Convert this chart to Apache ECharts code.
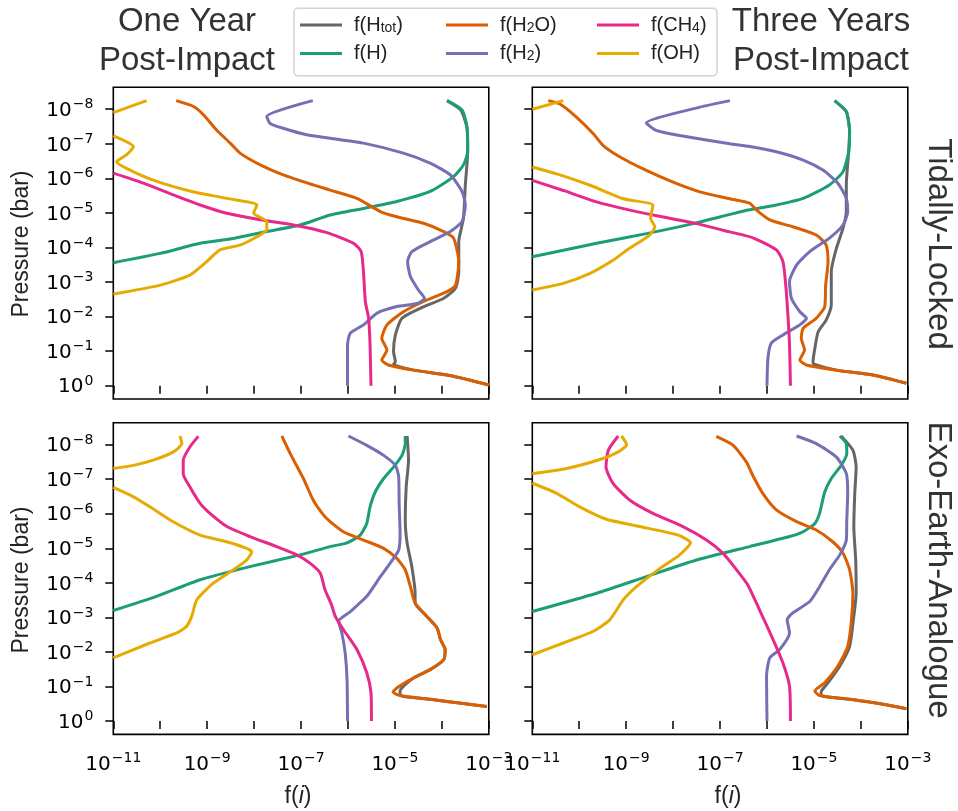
<!DOCTYPE html>
<html>
<head>
<meta charset="utf-8">
<script src="https://cdn.jsdelivr.net/npm/echarts@6/dist/echarts.min.js"></script>
<style>html,body{margin:0;padding:0;background:#fff;}#c{width:958px;height:811px;}</style>
</head>
<body>
<div id="c"></div>
<script>
// Values are log10 mixing ratio f(i) and log10 pressure (bar): [log10 f, log10 P]
const X_TICKS = [-11, -10, -9, -8, -7, -6, -5, -4, -3];
const Y_TICKS = [-8, -7, -6, -5, -4, -3, -2, -1, 0];

// ---- One Year, Tidally-Locked ----
const tl1_Htot = [[-3.89,-8.25],[-3.60,-7.98],[-3.47,-7.50],[-3.45,-6.95],[-3.45,-6.77],[-3.50,-5.81],[-3.54,-4.84],[-3.64,-4.17],[-3.64,-3.30],[-3.71,-2.82],[-3.96,-2.53],[-4.46,-2.24],[-4.85,-1.95],[-4.99,-1.47],[-5.03,-0.98],[-4.99,-0.69],[-5.03,-0.62],[-4.60,-0.45],[-3.89,-0.31],[-3.39,-0.16],[-3.0,-0.02]];
const tl1_H = [[-3.89,-8.25],[-3.57,-7.98],[-3.46,-7.45],[-3.45,-6.77],[-3.54,-6.39],[-3.75,-6.05],[-4.25,-5.62],[-4.96,-5.33],[-5.67,-5.13],[-6.38,-4.94],[-7.02,-4.65],[-7.73,-4.46],[-8.44,-4.26],[-9.15,-4.12],[-10.0,-3.83],[-11,-3.56]];
const tl1_H2O = [[-9.66,-8.25],[-9.29,-8.08],[-9.08,-7.84],[-8.80,-7.40],[-8.51,-7.02],[-8.30,-6.73],[-7.87,-6.39],[-7.38,-6.10],[-6.74,-5.81],[-6.38,-5.66],[-5.81,-5.42],[-5.31,-5.04],[-4.96,-4.89],[-4.39,-4.70],[-3.96,-4.46],[-3.75,-4.27],[-3.64,-3.59],[-3.71,-2.91],[-3.89,-2.72],[-4.32,-2.48],[-4.82,-2.14],[-5.17,-1.76],[-5.28,-1.37],[-5.17,-1.03],[-5.28,-0.74],[-5.14,-0.60],[-4.60,-0.45],[-3.89,-0.31],[-3.39,-0.16],[-3.0,-0.02]];
const tl1_H2 = [[-6.75,-8.25],[-7.73,-7.79],[-7.66,-7.59],[-7.38,-7.45],[-6.88,-7.26],[-6.38,-7.16],[-5.67,-7.02],[-4.82,-6.73],[-4.25,-6.44],[-3.82,-6.10],[-3.57,-5.62],[-3.50,-5.23],[-3.57,-4.75],[-3.82,-4.46],[-4.25,-4.17],[-4.64,-3.88],[-4.73,-3.59],[-4.67,-3.16],[-4.50,-2.77],[-4.37,-2.53],[-4.53,-2.38],[-4.96,-2.29],[-5.38,-2.10],[-5.67,-1.76],[-5.95,-1.52],[-6.01,-1.18],[-6.01,0.0]];
const tl1_CH4 = [[-11,-6.15],[-10.36,-5.86],[-9.72,-5.52],[-9.15,-5.23],[-8.58,-4.99],[-7.87,-4.80],[-7.16,-4.65],[-6.45,-4.43],[-5.88,-4.12],[-5.72,-3.88],[-5.67,-3.30],[-5.63,-2.43],[-5.56,-1.95],[-5.53,-1.18],[-5.51,0.0]];
const tl1_OH = [[-10.29,-8.25],[-11,-7.9],null,[-11,-7.23],[-10.57,-6.92],[-10.72,-6.68],[-10.93,-6.48],[-10.72,-6.29],[-10.15,-5.95],[-9.33,-5.62],[-8.58,-5.42],[-7.94,-5.23],[-8.01,-4.99],[-7.73,-4.75],[-7.73,-4.51],[-7.94,-4.31],[-8.30,-4.07],[-8.73,-3.93],[-9.01,-3.59],[-9.37,-3.20],[-10.0,-2.91],[-11,-2.65]];

// ---- Three Years, Tidally-Locked ----
const tl3_Htot = [[-4.56,-8.25],[-4.31,-7.93],[-4.24,-7.35],[-4.26,-6.77],[-4.31,-5.81],[-4.31,-5.04],[-4.38,-4.56],[-4.52,-3.98],[-4.63,-3.30],[-4.63,-2.34],[-4.74,-1.90],[-4.91,-1.56],[-4.98,-1.08],[-5.02,-0.69],[-5.0,-0.62],[-4.52,-0.45],[-3.74,-0.31],[-3.03,-0.07]];
const tl3_H = [[-4.56,-8.25],[-4.31,-7.93],[-4.24,-7.35],[-4.26,-6.77],[-4.38,-6.19],[-4.67,-5.81],[-5.23,-5.42],[-5.80,-5.23],[-6.37,-5.09],[-6.72,-4.98],[-7.57,-4.69],[-8.57,-4.40],[-9.63,-4.12],[-11,-3.73]];
const tl3_H2O = [[-10.66,-8.25],[-10.41,-8.15],[-10.06,-7.77],[-9.70,-7.29],[-9.49,-6.95],[-9.13,-6.62],[-8.57,-6.23],[-8.0,-5.89],[-7.43,-5.61],[-6.79,-5.41],[-6.37,-5.28],[-6.23,-5.09],[-5.94,-4.80],[-5.45,-4.60],[-4.95,-4.36],[-4.74,-4.07],[-4.70,-3.59],[-4.75,-2.91],[-4.77,-2.29],[-4.95,-1.95],[-5.23,-1.66],[-5.27,-1.37],[-5.20,-1.03],[-5.30,-0.74],[-5.16,-0.60],[-4.52,-0.45],[-3.74,-0.31],[-3.03,-0.07]];
const tl3_H2 = [[-6.79,-8.25],[-7.43,-8.06],[-8.57,-7.60],[-8.35,-7.38],[-7.86,-7.24],[-6.79,-7.0],[-6.37,-6.92],[-5.80,-6.77],[-5.23,-6.53],[-4.81,-6.24],[-4.49,-5.86],[-4.31,-5.42],[-4.28,-5.04],[-4.38,-4.65],[-4.67,-4.27],[-5.09,-3.88],[-5.37,-3.49],[-5.52,-3.01],[-5.48,-2.53],[-5.30,-2.14],[-5.16,-1.95],[-5.30,-1.76],[-5.66,-1.47],[-5.91,-1.23],[-5.98,-0.79],[-6.0,0.0]];
const tl3_CH4 = [[-11,-5.94],[-10.34,-5.65],[-9.63,-5.32],[-8.92,-5.08],[-8.21,-4.88],[-7.50,-4.69],[-6.79,-4.45],[-6.30,-4.28],[-5.80,-3.93],[-5.66,-3.59],[-5.60,-2.91],[-5.55,-1.95],[-5.52,-1.18],[-5.50,0.0]];
const tl3_OH = [[-10.34,-8.25],[-11,-8.0],null,[-11,-6.33],[-10.48,-6.13],[-9.77,-5.80],[-9.06,-5.41],[-8.43,-5.22],[-8.48,-4.84],[-8.39,-4.60],[-8.50,-4.36],[-8.99,-3.92],[-9.28,-3.63],[-9.77,-3.25],[-10.34,-2.96],[-11,-2.77]];

// ---- One Year, Exo-Earth-Analogue ----
const ea1_Htot = [[-4.74,-8.25],[-4.71,-7.55],[-4.76,-6.78],[-4.78,-5.82],[-4.74,-5.15],[-4.64,-4.47],[-4.57,-3.70],[-4.57,-3.42],[-4.32,-3.03],[-4.10,-2.69],[-4.03,-2.36],[-3.93,-2.07],[-3.96,-1.78],[-4.25,-1.49],[-4.60,-1.25],[-4.89,-0.87],[-4.89,-0.74],[-4.25,-0.63],[-3.54,-0.51],[-3.04,-0.42]];
const ea1_H = [[-4.78,-8.25],[-4.78,-8.03],[-4.85,-7.69],[-5.03,-7.35],[-5.24,-7.02],[-5.42,-6.63],[-5.53,-6.20],[-5.60,-5.72],[-5.74,-5.38],[-6.02,-5.16],[-6.38,-5.05],[-7.02,-4.81],[-8.09,-4.47],[-9.15,-4.09],[-10.08,-3.61],[-11,-3.20]];
const ea1_H2O = [[-7.41,-8.25],[-7.23,-7.74],[-6.95,-7.02],[-6.74,-6.39],[-6.52,-5.96],[-6.38,-5.77],[-6.10,-5.48],[-5.67,-5.24],[-5.24,-5.0],[-4.96,-4.71],[-4.78,-4.38],[-4.67,-3.89],[-4.57,-3.42],[-4.32,-3.03],[-4.10,-2.69],[-4.03,-2.36],[-3.93,-2.07],[-3.96,-1.78],[-4.25,-1.49],[-4.60,-1.25],[-4.96,-0.96],[-5.04,-0.84],[-4.89,-0.74],[-4.25,-0.63],[-3.54,-0.51],[-3.04,-0.42]];
const ea1_H2 = [[-5.99,-8.25],[-5.60,-7.98],[-5.24,-7.69],[-4.99,-7.40],[-4.92,-7.07],[-4.91,-6.30],[-4.89,-5.43],[-4.92,-4.95],[-5.10,-4.57],[-5.31,-4.18],[-5.60,-3.61],[-5.95,-3.17],[-6.20,-2.89],[-6.13,-2.55],[-6.06,-1.97],[-6.02,-1.20],[-6.01,0.0]];
const ea1_CH4 = [[-9.19,-8.24],[-9.37,-7.93],[-9.51,-7.55],[-9.51,-7.16],[-9.37,-6.78],[-9.15,-6.30],[-8.94,-6.01],[-8.58,-5.63],[-8.09,-5.34],[-7.52,-5.05],[-7.09,-4.81],[-6.81,-4.57],[-6.59,-4.28],[-6.49,-3.80],[-6.36,-3.40],[-6.27,-3.03],[-6.10,-2.65],[-5.81,-2.07],[-5.60,-1.40],[-5.51,-0.82],[-5.50,0.0]];
const ea1_OH = [[-9.58,-8.25],[-9.54,-8.03],[-9.72,-7.79],[-10.15,-7.55],[-10.57,-7.40],[-11,-7.31],null,[-11,-6.76],[-10.57,-6.49],[-10.22,-6.20],[-9.79,-5.82],[-9.15,-5.38],[-8.58,-5.19],[-8.16,-5.0],[-8.05,-4.90],[-8.16,-4.66],[-8.44,-4.38],[-8.87,-3.99],[-9.22,-3.51],[-9.33,-3.03],[-9.44,-2.74],[-9.65,-2.55],[-10.22,-2.26],[-11,-1.83]];

// ---- Three Years, Exo-Earth-Analogue ----
const ea3_Htot = [[-4.42,-8.25],[-4.17,-7.84],[-4.10,-7.35],[-4.13,-6.59],[-4.15,-5.62],[-4.11,-4.66],[-4.10,-3.70],[-4.16,-2.93],[-4.24,-2.16],[-4.45,-1.59],[-4.70,-1.11],[-4.84,-0.87],[-4.85,-0.74],[-4.24,-0.63],[-3.53,-0.49],[-3.03,-0.36]];
const ea3_H = [[-4.45,-8.25],[-4.31,-8.03],[-4.30,-7.74],[-4.42,-7.40],[-4.63,-7.02],[-4.77,-6.63],[-4.88,-6.01],[-4.98,-5.72],[-5.23,-5.48],[-5.52,-5.34],[-6.37,-5.05],[-7.50,-4.66],[-8.57,-4.18],[-9.63,-3.70],[-11,-3.17]];
const ea3_H2O = [[-7.08,-8.24],[-6.72,-7.98],[-6.44,-7.50],[-6.30,-7.10],[-6.09,-6.59],[-5.80,-6.11],[-5.37,-5.77],[-4.95,-5.53],[-4.60,-5.19],[-4.38,-4.86],[-4.24,-4.38],[-4.17,-3.70],[-4.20,-2.93],[-4.28,-2.16],[-4.49,-1.59],[-4.77,-1.11],[-4.98,-0.87],[-4.88,-0.74],[-4.24,-0.63],[-3.53,-0.49],[-3.03,-0.36]];
const ea3_H2 = [[-5.37,-8.25],[-4.95,-8.03],[-4.52,-7.64],[-4.31,-7.16],[-4.28,-6.59],[-4.30,-5.82],[-4.31,-5.24],[-4.45,-4.81],[-4.67,-4.38],[-4.88,-3.89],[-5.09,-3.46],[-5.45,-3.13],[-5.57,-2.93],[-5.52,-2.55],[-5.73,-2.07],[-5.94,-1.83],[-6.01,-1.30],[-6.0,0.0]];
const ea3_CH4 = [[-9.17,-8.25],[-9.38,-7.84],[-9.43,-7.36],[-9.28,-6.88],[-8.92,-6.39],[-8.43,-6.01],[-7.79,-5.63],[-7.29,-5.24],[-6.94,-4.86],[-6.65,-4.38],[-6.40,-3.92],[-6.16,-3.22],[-5.87,-2.36],[-5.66,-1.68],[-5.52,-1.01],[-5.50,0.0]];
const ea3_OH = [[-9.10,-8.25],[-8.99,-8.0],[-9.17,-7.79],[-9.56,-7.57],[-10.27,-7.31],[-11,-7.16],null,[-11,-6.89],[-10.48,-6.59],[-9.99,-6.20],[-9.42,-5.84],[-8.71,-5.63],[-7.89,-5.38],[-7.63,-5.16],[-7.86,-4.81],[-8.28,-4.42],[-8.78,-3.89],[-9.06,-3.51],[-9.35,-2.93],[-9.70,-2.60],[-10.34,-2.26],[-11,-1.92]];

const SPECIES = ['Htot', 'H', 'H2O', 'H2', 'CH4', 'OH'];
const LEGEND_LABELS = {
  Htot: '{g| }{n|f(H}{sub|tot}{n|)}',
  H: '{g| }{n|f(H)}',
  H2O: '{g| }{n|f(H}{sub|2}{n|O)}',
  H2: '{g| }{n|f(H}{sub|2}{n|)}',
  CH4: '{g| }{n|f(CH}{sub|4}{n|)}',
  OH: '{g| }{n|f(OH)}'
};
const PANELS = [
  [tl1_Htot, tl1_H, tl1_H2O, tl1_H2, tl1_CH4, tl1_OH],
  [tl3_Htot, tl3_H, tl3_H2O, tl3_H2, tl3_CH4, tl3_OH],
  [ea1_Htot, ea1_H, ea1_H2O, ea1_H2, ea1_CH4, ea1_OH],
  [ea3_Htot, ea3_H, ea3_H2O, ea3_H2, ea3_CH4, ea3_OH]
];

const COLORS = { Htot: '#666666', H: '#1b9e77', H2O: '#d95f02', H2: '#7570b3', CH4: '#e7298a', OH: '#e6ab02' };
const SANS = 'Liberation Sans, Arial, Helvetica, sans-serif';
const TICKFONT = 'DejaVu Sans, sans-serif';

const sup = n => '{b|10}{s|' + (n < 0 ? '\u2212' + (-n) : String(n)) + '}';
const tickRich = {
  b: { fontFamily: TICKFONT, fontSize: 20, lineHeight: 23, verticalAlign: 'bottom', color: '#000' },
  s: { fontFamily: TICKFONT, fontSize: 14, lineHeight: 12, verticalAlign: 'top', color: '#000', padding: [0, 0, 0, 1] }
};

const gridPos = [
  { left: 113.3, top: 87.3 },
  { left: 532.3, top: 87.3 },
  { left: 113.3, top: 422.7 },
  { left: 532.3, top: 422.7 }
];
const grids = gridPos.map(g => ({
  left: g.left, top: g.top, width: 375.5, height: 311.7,
  show: true, borderColor: '#000', borderWidth: 1.6, backgroundColor: 'transparent', containLabel: false
}));

const xAxes = gridPos.map((g, i) => ({
  type: 'value', gridIndex: i, min: X_TICKS[0], max: X_TICKS[X_TICKS.length - 1], interval: 1,
  axisLine: { show: false }, splitLine: { show: false },
  axisTick: { show: true, length: 8, lineStyle: { color: '#000', width: 1.5 } },
  axisLabel: {
    show: i >= 2, margin: 17, rich: tickRich,
    formatter: v => { const n = Math.round(v); return (n % 2 !== 0) ? sup(n) : ''; }
  }
}));
const yAxes = gridPos.map((g, i) => ({
  type: 'value', gridIndex: i, inverse: true, min: -8.635, max: 0.385,
  axisLine: { show: false }, splitLine: { show: false },
  axisTick: { show: true, length: 8, customValues: Y_TICKS, lineStyle: { color: '#000', width: 1.5 } },
  axisLabel: {
    show: i % 2 === 0, margin: 20, customValues: Y_TICKS, rich: tickRich,
    formatter: v => sup(Math.round(v))
  }
}));

const series = [];
PANELS.forEach((arrs, p) => {
  SPECIES.forEach((sp, k) => {
    series.push({
      type: 'line', name: sp, xAxisIndex: p, yAxisIndex: p,
      data: arrs[k], showSymbol: false, symbol: 'none', smooth: 0.2,
      connectNulls: false, clip: true,
      lineStyle: { color: COLORS[sp], width: 3 }, itemStyle: { color: COLORS[sp] },
      emphasis: { disabled: true }
    });
  });
});

const legendRich = {
  g: { width: 7, fontSize: 20, lineHeight: 20 },
  n: { fontFamily: SANS, fontSize: 20, lineHeight: 20, verticalAlign: 'top', color: '#222' },
  sub: { fontFamily: SANS, fontSize: 14, lineHeight: 12, verticalAlign: 'bottom', color: '#222' }
};
const mkLegend = (left, names) => ({
  left: left, top: 15, orient: 'vertical', padding: 0, itemGap: 8.5,
  itemWidth: 42, itemHeight: 3, icon: 'rect', selectedMode: false,
  data: names, formatter: name => LEGEND_LABELS[name],
  textStyle: { rich: legendRich, color: '#222' }
});

const txt = (text, x, y, size, rot) => ({
  type: 'text', x: x, y: y, rotation: rot || 0, silent: true,
  style: { text: text, x: 0, y: 0, align: 'center', verticalAlign: 'middle',
    fontFamily: SANS, fontSize: size, fill: '#333' }
});
const fiRich = {
  r: { fontFamily: SANS, fontSize: 23, fill: '#222', color: '#222' },
  i: { fontFamily: SANS, fontSize: 23, fontStyle: 'italic', fill: '#222', color: '#222' }
};

const chart = echarts.init(document.getElementById('c'), null, { renderer: 'canvas' });
chart.setOption({
  animation: false,
  backgroundColor: '#fff',
  grid: grids,
  xAxis: xAxes,
  yAxis: yAxes,
  legend: [
    mkLegend(300, ['Htot', 'H']),
    mkLegend(446, ['H2O', 'H2']),
    mkLegend(597, ['CH4', 'OH'])
  ],
  graphic: [
    { type: 'rect', z: -1, silent: true, shape: { x: 294, y: 8.3, width: 423, height: 67.5, r: 4 },
      style: { fill: '#fff', stroke: '#d4d4d4', lineWidth: 1.5 } },
    txt('One Year', 187, 22, 33),
    txt('Post-Impact', 187, 61, 33),
    txt('Three Years', 821, 22, 33),
    txt('Post-Impact', 821, 61, 33),
    txt('Tidally-Locked', 938, 244, 33, -Math.PI / 2),
    txt('Exo-Earth-Analogue', 938, 570, 33, -Math.PI / 2),
    { type: 'text', x: 22, y: 244, rotation: Math.PI / 2, silent: true,
      style: { text: 'Pressure (bar)', x: 0, y: 0, align: 'center', verticalAlign: 'middle', fontFamily: SANS, fontSize: 23, fill: '#222' } },
    { type: 'text', x: 22, y: 580, rotation: Math.PI / 2, silent: true,
      style: { text: 'Pressure (bar)', x: 0, y: 0, align: 'center', verticalAlign: 'middle', fontFamily: SANS, fontSize: 23, fill: '#222' } },
    { type: 'text', x: 298, y: 797, silent: true,
      style: { text: '{r|f(}{i|i}{r|)}', x: 0, y: 0, align: 'center', verticalAlign: 'middle', rich: fiRich, fill: '#222' } },
    { type: 'text', x: 728, y: 797, silent: true,
      style: { text: '{r|f(}{i|i}{r|)}', x: 0, y: 0, align: 'center', verticalAlign: 'middle', rich: fiRich, fill: '#222' } }
  ],
  series: series
});
</script>
</body>
</html>
